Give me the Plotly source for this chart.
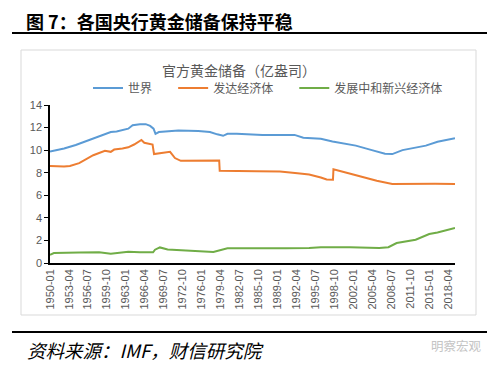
import plotly.graph_objects as go

# ---------------- data ----------------
WORLD_DATES = ["1950-01", "1952-06", "1954-06", "1956-01", "1958-01", "1960-06", "1961-06",
               "1962-06", "1963-06", "1964-03", "1965-06", "1966-06", "1967-03", "1967-10",
               "1968-02", "1968-09", "1970-01", "1972-01", "1975-06", "1977-06", "1978-09",
               "1979-09", "1980-06", "1982-01", "1986-06", "1989-01", "1991-12", "1993-06",
               "1995-06", "1996-06", "1998-06", "2000-01", "2002-06", "2005-03", "2007-06",
               "2008-09", "2010-06", "2012-06", "2014-06", "2016-06", "2017-06", "2019-06"]
WORLD_VALUES = [9.88, 10.15, 10.45, 10.76, 11.15, 11.6, 11.65,
                11.8, 11.9, 12.2, 12.3, 12.3, 12.15, 11.9,
                11.45, 11.6, 11.65, 11.75, 11.7, 11.6, 11.4,
                11.27, 11.45, 11.45, 11.35, 11.38, 11.35, 11.1,
                11.05, 11.0, 10.77, 10.6, 10.4, 10.0, 9.68,
                9.65, 10.0, 10.2, 10.4, 10.75, 10.85, 11.06]

DEV_DATES = ["1950-01", "1952-06", "1953-06", "1955-01", "1957-06", "1959-06", "1960-06",
             "1961-01", "1962-06", "1963-06", "1964-06", "1965-09", "1966-03", "1967-03",
             "1967-08", "1967-11", "1969-06", "1970-08", "1971-06", "1972-06", "1979-01",
             "1979-02", "1985-06", "1989-06", "1992-06", "1994-06", "1996-06", "1997-06",
             "1998-07", "1998-08", "2001-03", "2004-06", "2006-01", "2008-09", "2012-06",
             "2016-01", "2019-06"]
DEV_VALUES = [8.6, 8.55, 8.6, 8.85, 9.55, 9.95, 9.85,
              10.05, 10.15, 10.25, 10.5, 10.9, 10.65, 10.55,
              10.5, 9.65, 9.75, 9.85, 9.3, 9.05, 9.08,
              8.17, 8.12, 8.1, 7.96, 7.85, 7.58, 7.4,
              7.37, 8.3, 7.96, 7.5, 7.28, 7.0, 7.03,
              7.02, 7.0]

EME_DATES = ["1950-01", "1950-09", "1955-01", "1958-06", "1960-06", "1962-06", "1963-06",
             "1965-06", "1967-03", "1967-09", "1968-01", "1968-11", "1970-03", "1973-03",
             "1976-06", "1978-01", "1980-06", "1985-06", "1990-06", "1994-06", "1996-06",
             "2001-06", "2006-06", "2008-01", "2009-06", "2012-09", "2015-01", "2016-06",
             "2019-06"]
EME_VALUES = [0.73, 0.88, 0.92, 0.96, 0.82, 0.98, 1.0,
              0.95, 0.98, 0.95, 1.18, 1.38, 1.2, 1.1,
              1.02, 0.97, 1.3, 1.28, 1.3, 1.33, 1.4,
              1.4, 1.33, 1.4, 1.77, 2.06, 2.57, 2.7,
              3.1]

SERIES_NAMES = ["世界", "发达经济体", "发展中和新兴经济体"]
SERIES_COLORS = ["#5B9BD5", "#ED7D31", "#70AD47"]

TICK_LABELS = ["1950-01", "1953-04", "1956-07", "1959-10", "1963-01", "1966-04", "1969-07",
               "1972-10", "1976-01", "1979-04", "1982-07", "1985-10", "1989-01", "1992-04",
               "1995-07", "1998-10", "2002-01", "2005-04", "2008-07", "2011-10", "2015-01",
               "2018-04"]
Y_TICKS = [0, 2, 4, 6, 8, 10, 12, 14]

TITLE = "图 7：各国央行黄金储备保持平稳"
CHART_TITLE = "官方黄金储备（亿盎司）"
SOURCE = "资料来源：IMF，财信研究院"
WATERMARK = "明察宏观"

CJK = "Noto Sans CJK SC"
LAT = "Liberation Sans"

# ---------------- figure ----------------
# the page body has an 8px margin, so the figure is offset by 8px inside the window
OFF = 8
W, H = 500 - OFF, 366 - OFF
PLOT_LEFT, PLOT_RIGHT, PLOT_TOP, PLOT_BOTTOM = 50, 455, 105, 263   # page pixels
L = PLOT_LEFT - OFF
R = W - (PLOT_RIGHT - OFF)
T = PLOT_TOP - OFF
B = H - (PLOT_BOTTOM - OFF)
PW, PH = PLOT_RIGHT - PLOT_LEFT, PLOT_BOTTOM - PLOT_TOP


def px(x):
    return (x - PLOT_LEFT) / PW


def py(y):
    return (PLOT_BOTTOM - y) / PH


PAD = "\u00a0" * 6

fig = go.Figure()
for name, color, d, v in zip(SERIES_NAMES, SERIES_COLORS,
                             [WORLD_DATES, DEV_DATES, EME_DATES],
                             [WORLD_VALUES, DEV_VALUES, EME_VALUES]):
    fig.add_trace(go.Scatter(x=[s + "-01" for s in d], y=v, mode="lines", name=name + PAD,
                             line=dict(color=color, width=2)))

fig.update_layout(
    width=W, height=H, autosize=False,
    margin=dict(l=L, r=R, t=T, b=B, pad=0),
    paper_bgcolor="white", plot_bgcolor="white",
    font=dict(family=CJK, color="#595959"),
    showlegend=True,
    legend=dict(orientation="h", x=px(88), y=py(88), xanchor="left", yanchor="middle",
                font=dict(family=CJK, size=12, color="#595959"),
                bgcolor="rgba(0,0,0,0)", itemclick=False),
    xaxis=dict(type="date", range=["1950-01-01", WORLD_DATES[-1] + "-01"],
               tickvals=[t + "-01" for t in TICK_LABELS], ticktext=TICK_LABELS,
               tickangle=-90, ticks="", showgrid=False, zeroline=False,
               showline=True, linecolor="black", linewidth=1.5,
               tickfont=dict(family=LAT, size=11, color="#595959")),
    yaxis=dict(range=[0, 14], tickvals=Y_TICKS, ticks="outside", ticklen=4,
               tickcolor="black", tickwidth=1, showgrid=False, zeroline=False,
               showline=True, linecolor="black", linewidth=1.5,
               tickfont=dict(family=LAT, size=11, color="#595959")),
)

shapes = [
    dict(type="rect", xref="paper", yref="paper", x0=px(21), x1=px(476), y0=py(315), y1=py(50),
         line=dict(color="#D9D9D9", width=1), fillcolor="rgba(0,0,0,0)", layer="below"),
    dict(type="line", xref="paper", yref="paper", x0=px(12), x1=px(487), y0=py(33), y1=py(33),
         line=dict(color="black", width=2)),
    dict(type="line", xref="paper", yref="paper", x0=px(12), x1=px(487), y0=py(332), y1=py(332),
         line=dict(color="black", width=2)),
]
fig.update_layout(shapes=shapes)

annots = [
    dict(text="<b>" + TITLE + "</b>", x=px(25), y=py(20.5), xanchor="left", yanchor="middle",
         borderpad=0, font=dict(family=CJK, size=18, color="black")),
    dict(text=CHART_TITLE, x=px(239), y=py(70), xanchor="center", yanchor="middle",
         font=dict(family=CJK, size=14, color="#595959")),
    dict(text="<i>" + SOURCE + "</i>", x=px(25), y=py(350), xanchor="left", yanchor="middle",
         font=dict(family=CJK, size=18.5, color="black")),
    dict(text=WATERMARK, x=px(484), y=py(345), xanchor="right", yanchor="middle",
         font=dict(family=CJK, size=12.5, color="#C4C4C4")),
]
for a in annots:
    a.update(xref="paper", yref="paper", showarrow=False)
fig.update_layout(annotations=annots)

fig.write_html("out.html")
